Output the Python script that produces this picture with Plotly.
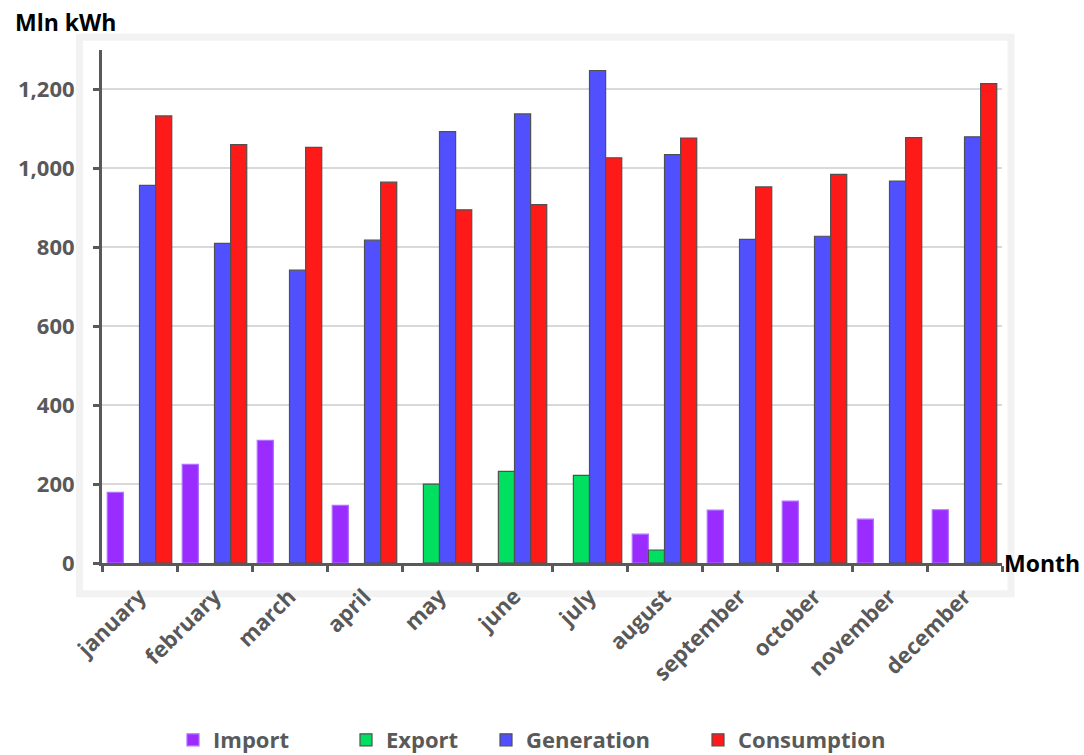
import plotly.graph_objects as go

months = ["january", "february", "march", "april", "may", "june", "july",
          "august", "september", "october", "november", "december"]
imports = [179, 250, 311, 146, None, None, None, 73, 134, 157, 111, 135]
exports = [None, None, None, None, 200, 232, 222, 33, None, None, None, None]
generation = [957, 810, 742, 818, 1093, 1138, 1248, 1035, 820, 828, 968, 1080]
consumption = [1133, 1060, 1053, 965, 895, 908, 1027, 1077, 953, 985, 1078, 1215]

series = [
    ("Import", imports, "#9b2cff", "#b070ff", "legend", 187),
    ("Export", exports, "#00e060", "#505050", "legend2", 360),
    ("Generation", generation, "#5050ff", "#505050", "legend3", 500),
    ("Consumption", consumption, "#ff1a1a", "#505050", "legend4", 712),
]

gray = "#595959"
font_family = "Open Sans"

fig = go.Figure()
legend_layouts = {}
for name, vals, col, line, leg, xpos in series:
    fig.add_trace(go.Bar(name=name, x=months, y=vals, marker_color=col,
                         marker_line_color=line, marker_line_width=1.2, legend=leg))
    legend_layouts[leg] = dict(
        orientation="h", xref="container", yref="container",
        x=(xpos - 14) / 1084, xanchor="left", y=15 / 755, yanchor="middle",
        font=dict(family=font_family, size=22, color=gray, weight="bold"),
        itemwidth=30, bgcolor="rgba(0,0,0,0)")

fig.update_layout(
    width=1084, height=755,
    margin=dict(l=102, r=82, t=50, b=192),
    barmode="group", bargap=0.14, bargroupgap=0,
    plot_bgcolor="white", paper_bgcolor="white",
    font=dict(family=font_family, size=22, color=gray),
    showlegend=True,
    xaxis=dict(type="category", tickson="boundaries", ticks="outside", ticklen=6,
               tickwidth=3, tickcolor=gray, showline=True, linecolor=gray, linewidth=3,
               tickangle=-45, ticklabelstandoff=9, automargin=False,
               tickfont=dict(family=font_family, size=22, color=gray, weight="bold"),
               showgrid=False),
    yaxis=dict(range=[0, 1300], tickvals=[0, 200, 400, 600, 800, 1000, 1200],
               tickformat=",", ticks="outside", ticklen=6, tickwidth=3, tickcolor=gray,
               showline=True, linecolor=gray, linewidth=3, showgrid=True,
               gridcolor="#d9d9d9", gridwidth=1.5, zeroline=False,
               ticklabelstandoff=14, automargin=False,
               tickfont=dict(family=font_family, size=22, color=gray, weight="bold")),
    annotations=[
        dict(text="Mln kWh", xref="paper", yref="paper", x=-0.099, y=1.054,
             xanchor="left", yanchor="middle", showarrow=False,
             font=dict(family=font_family, size=23, color="black", weight="bold")),
        dict(text="Month", xref="paper", yref="paper", x=1.0, y=0.0,
             xanchor="left", yanchor="middle", showarrow=False,
             font=dict(family=font_family, size=23, color="black", weight="bold")),
    ],
    shapes=[
        dict(type="rect", xref="paper", yref="paper", x0=-0.025, x1=1.01, y0=-0.06, y1=1.025,
             line=dict(color="#f2f2f2", width=7), layer="below"),
    ],
    **legend_layouts,
)

fig.write_html("out.html")
